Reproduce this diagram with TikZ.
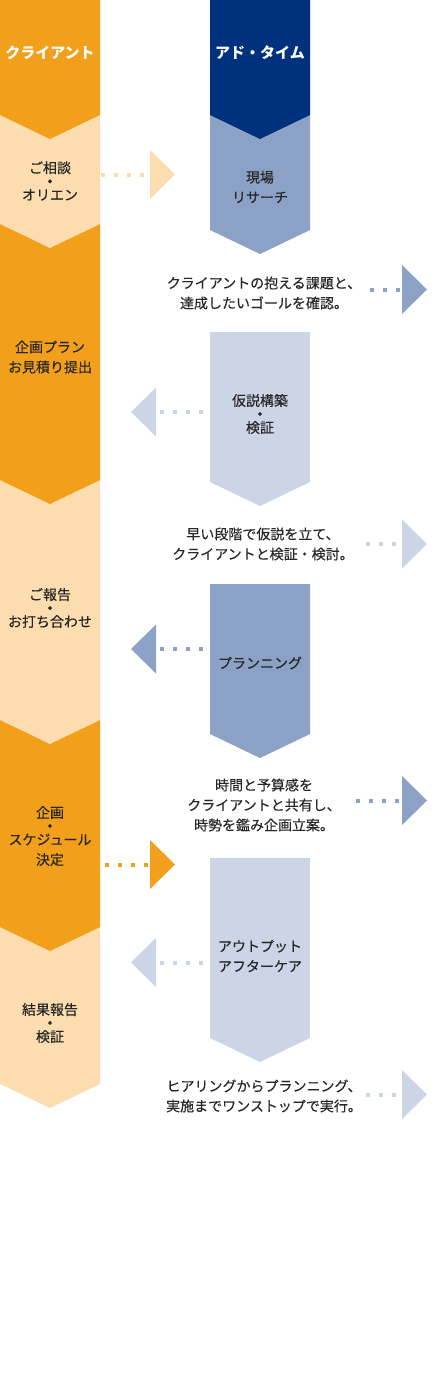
\documentclass[tikz,border=0pt]{standalone}
\usepackage{fontspec}
\setmainfont{Noto Sans CJK JP}
\newfontfamily\jpbody{Noto Sans CJK JP}[FakeBold=0.25]
\usetikzlibrary{arrows.meta,positioning}

\definecolor{clorange}{HTML}{F29F1C}
\definecolor{clpeach}{HTML}{FBDDAF}
\definecolor{adnavy}{HTML}{00317D}
\definecolor{admid}{HTML}{8BA1C5}
\definecolor{adlight}{HTML}{CBD5E6}
\definecolor{txt}{HTML}{262626}

\begin{document}
\begin{tikzpicture}[x=1pt, y=-1pt,
  head/.style={font=\fontsize{15pt}{18pt}\selectfont\bfseries, text=white, inner sep=0pt},
  stage/.style={font=\jpbody\fontsize{14pt}{20pt}\selectfont, text=txt, align=center, inner sep=0pt},
  note/.style={font=\jpbody\fontsize{14pt}{20pt}\selectfont, text=txt, align=center, inner sep=0pt},
  arr/.style={line width=4pt, dash pattern=on 4pt off 9pt, -{Triangle[length=25pt, width=49pt, line width=0pt]}}
]
  \useasboundingbox (0,0) rectangle (446,1378);
  \foreach \ya/\yb/\cl in {927/1084/clpeach, 720/927/clorange, 480/720/clpeach, 224/480/clorange, 115/224/clpeach, 0/115/clorange}
    \fill[\cl] (0,\ya) -- (100,\ya) -- (100,\yb) -- (50,\yb+24) -- (0,\yb) -- cycle;
  \foreach \ya/\yb/\cl in {858/1038/adlight, 584/734/admid, 332/482/adlight, 115/230/admid, 0/115/adnavy}
    \fill[\cl] (210,\ya) -- (310,\ya) -- (310,\yb) -- (260,\yb+24) -- (210,\yb) -- cycle;

  \node[head] (client) at (50,53) {クライアント};
  \node[head] (adtime) at (260,53) {アド・タイム};

  \node[stage] (orien) at (50,181) {ご相談\\[-6.5pt]{\bfseries ・}\\[-6.5pt]オリエン};
  \node[stage] (research) at (260,187) {現場\\リサーチ};
  \node[note] (note1) at (264,293) {クライアントの抱える課題と、\\達成したいゴールを確認。};
  \node[stage] (plan) at (50,357) {企画プラン\\お見積り提出};
  \node[stage] (kasetsu) at (260,414) {仮説構築\\[-6.5pt]{\bfseries ・}\\[-6.5pt]検証};
  \node[note] (note2) at (263,544) {早い段階で仮説を立て、\\クライアントと検証・検討。};
  \node[stage] (houkoku) at (50,608) {ご報告\\[-6.5pt]{\bfseries ・}\\[-6.5pt]お打ち合わせ};
  \node[stage] (planning) at (260,663) {プランニング};
  \node[note] (note3) at (264,805) {時間と予算感を\\クライアントと共有し、\\時勢を鑑み企画立案。};
  \node[stage] (kettei) at (50,836) {企画\\[-6.5pt]{\bfseries ・}\\[-6.5pt]スケジュール\\決定};
  \node[stage] (output) at (260,956) {アウトプット\\アフターケア};
  \node[stage] (kekka) at (50,1023) {結果報告\\[-6.5pt]{\bfseries ・}\\[-6.5pt]検証};
  \node[note] (note4) at (264,1096) {ヒアリングからプランニング、\\実施までワンストップで実行。};

  \coordinate (a1s) at (101,174.5);  \coordinate (a1e) at (175,174.5);
  \coordinate (a2s) at (370,289.5);  \coordinate (a2e) at (427,289.5);
  \coordinate (a3s) at (203,412);    \coordinate (a3e) at (131,412);
  \coordinate (a4s) at (366,544);    \coordinate (a4e) at (427,544);
  \coordinate (a5s) at (203,649);    \coordinate (a5e) at (131,649);
  \coordinate (a6s) at (356,800.5);  \coordinate (a6e) at (427,800.5);
  \coordinate (a7s) at (105,864.5);  \coordinate (a7e) at (175,864.5);
  \coordinate (a8s) at (203,962.5);  \coordinate (a8e) at (131,962.5);
  \coordinate (a9s) at (366,1094.5); \coordinate (a9e) at (427,1094.5);

  \draw[arr, clpeach] (a1s) -- (a1e);
  \draw[arr, admid] (a2s) -- (a2e);
  \draw[arr, adlight] (a3s) -- (a3e);
  \draw[arr, adlight] (a4s) -- (a4e);
  \draw[arr, admid] (a5s) -- (a5e);
  \draw[arr, admid] (a6s) -- (a6e);
  \draw[arr, clorange] (a7s) -- (a7e);
  \draw[arr, adlight] (a8s) -- (a8e);
  \draw[arr, adlight] (a9s) -- (a9e);
\end{tikzpicture}
\end{document}
